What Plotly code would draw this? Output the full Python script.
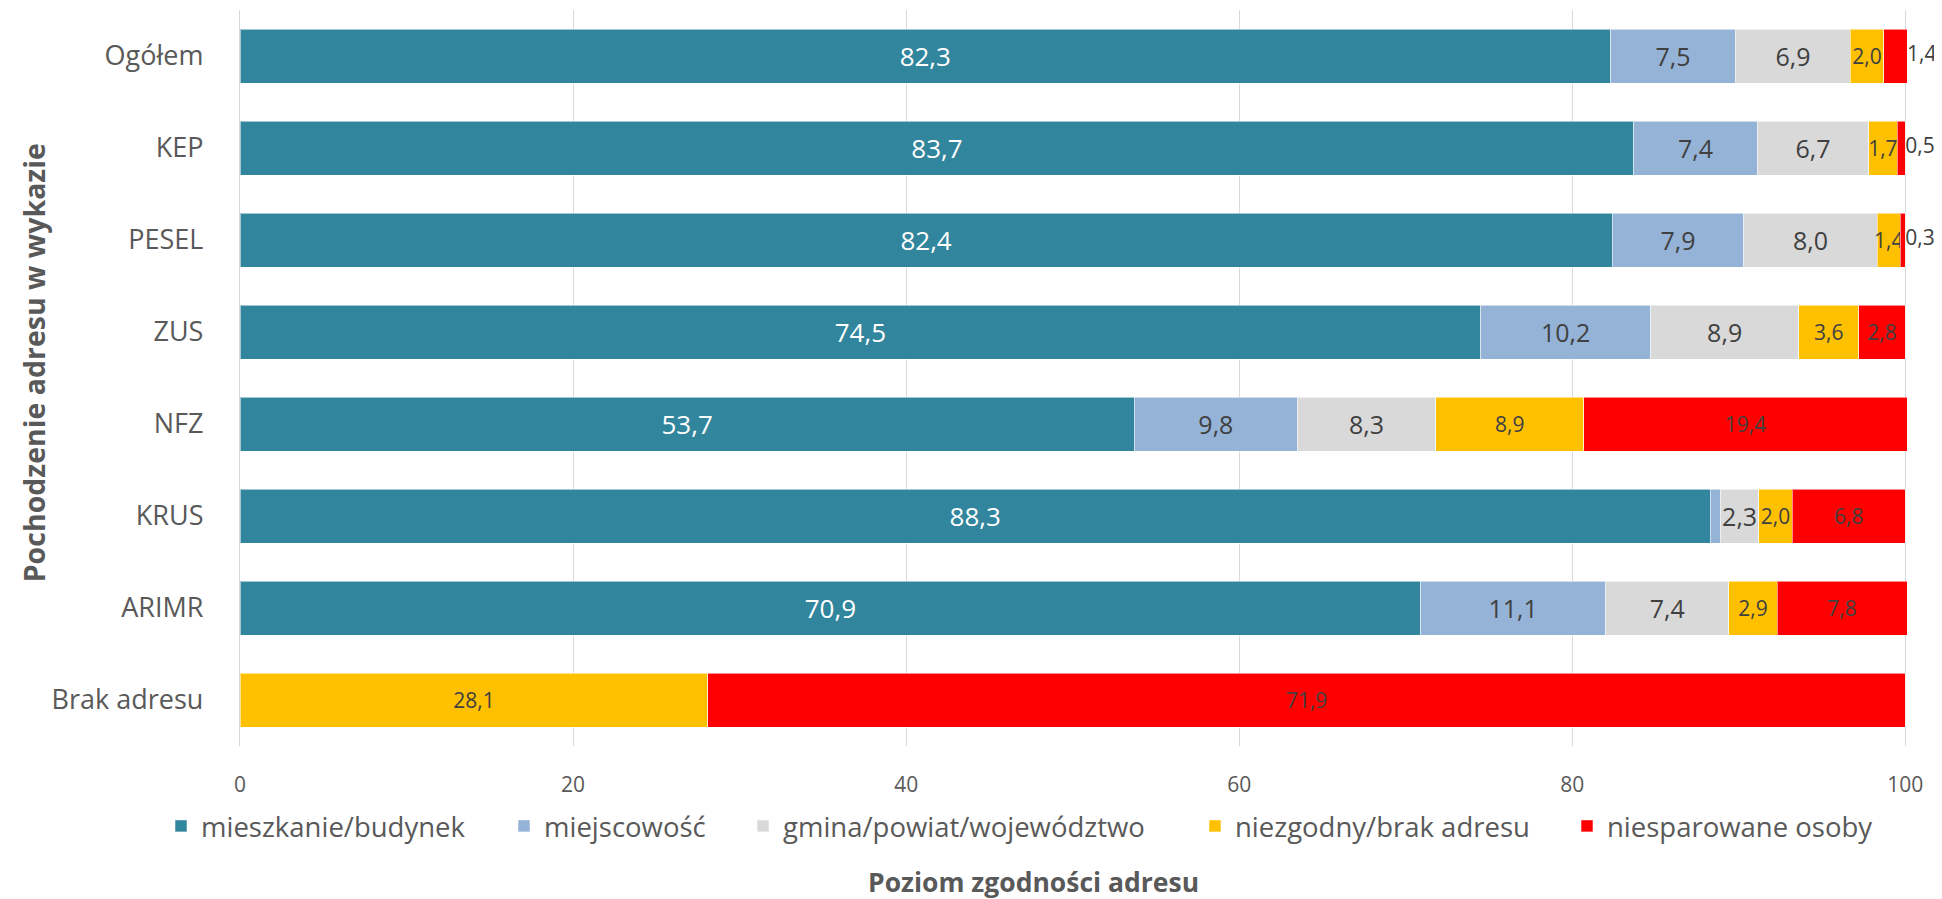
import plotly.graph_objects as go

categories = ["Ogółem", "KEP", "PESEL", "ZUS", "NFZ", "KRUS", "ARIMR", "Brak adresu"]
series_names = ["mieszkanie/budynek", "miejscowość", "gmina/powiat/województwo",
                "niezgodny/brak adresu", "niesparowane osoby"]

mieszkanie = [82.3, 83.7, 82.4, 74.5, 53.7, 88.3, 70.9, 0.0]
miejscowosc = [7.5, 7.4, 7.9, 10.2, 9.8, 0.6, 11.1, 0.0]
gmina = [6.9, 6.7, 8.0, 8.9, 8.3, 2.3, 7.4, 0.0]
niezgodny = [2.0, 1.7, 1.4, 3.6, 8.9, 2.0, 2.9, 28.1]
niesparowane = [1.4, 0.5, 0.3, 2.8, 19.4, 6.8, 7.8, 71.9]

x_ticks = [0, 20, 40, 60, 80, 100]

colors = ["#31859C", "#95B3D7", "#D9D9D9", "#FFC000", "#FF0000"]
label_colors = ["#FFFFFF", "#404040", "#404040", "#404040", "#404040"]
label_sizes = [26, 25, 25, 21, 21]
# one legend box per series so each entry sits where the reference puts it
legend_ids = ["legend", "legend2", "legend3", "legend4", "legend5"]
legend_item_x = [153, 496, 735, 1187, 1559]  # px from figure left

all_series = [mieszkanie, miejscowosc, gmina, niezgodny, niesparowane]
# red segments too narrow for an inside label get their label just right of the bar end
outside_idx = [0, 1, 2]


def fmt(v):
    return f"{v:.1f}".replace(".", ",")


fig = go.Figure()
for i, (name, vals) in enumerate(zip(series_names, all_series)):
    texts = []
    for j, v in enumerate(vals):
        if v < 1.0 or (i == 4 and j in outside_idx):
            texts.append("")
        else:
            texts.append(fmt(v))
    fig.add_trace(go.Bar(
        y=categories, x=vals, name=name, orientation="h", legend=legend_ids[i],
        marker=dict(color=colors[i], line=dict(color="rgba(255,255,255,0.55)", width=1)),
        text=texts, textposition="inside", insidetextanchor="middle",
        textangle=0, constraintext="none", cliponaxis=False,
        textfont=dict(family="Open Sans", size=label_sizes[i], color=label_colors[i]),
        hoverinfo="skip",
    ))

totals = [sum(s[j] for s in all_series) for j in range(len(categories))]

# outside labels for the narrow red segments
fig.add_trace(go.Scatter(
    y=[categories[j] for j in outside_idx],
    x=[totals[j] for j in outside_idx],
    text=[fmt(niesparowane[j]) for j in outside_idx],
    mode="text", textposition="middle right",
    textfont=dict(family="Open Sans", size=21, color="#404040"),
    showlegend=False, cliponaxis=False, hoverinfo="skip",
))

FIG_W, FIG_H = 1934, 891  # page body has an 8px default margin
legend_font = dict(family="Open Sans", size=27.5, color="#595959")

legends = {}
for lid, lx in zip(legend_ids, legend_item_x):
    legends[lid] = dict(
        orientation="h", xref="container", yref="container",
        x=lx / FIG_W, xanchor="left", y=1 - 818 / FIG_H, yanchor="middle",
        font=legend_font, itemwidth=30, traceorder="normal",
    )

fig.update_layout(
    width=FIG_W, height=FIG_H,
    barmode="stack", bargap=0.413,
    separators=", ",
    plot_bgcolor="white", paper_bgcolor="white",
    margin=dict(l=232, r=35, t=2, b=153, autoexpand=False),
    font=dict(family="Open Sans", color="#595959"),
    xaxis=dict(
        range=[0, max(totals)], tickvals=x_ticks, showgrid=True, gridcolor="#D9D9D9",
        gridwidth=1.3, zeroline=False, showline=False, ticks="", ticklabelstandoff=24,
        automargin=False, tickfont=dict(family="Open Sans", size=21, color="#595959"),
    ),
    yaxis=dict(
        categoryorder="array", categoryarray=categories, autorange="reversed",
        showgrid=False, zeroline=False, showline=True, linecolor="#D9D9D9", linewidth=1.3,
        ticks="", ticklabelstandoff=30, automargin=False,
        tickfont=dict(family="Open Sans", size=27, color="#595959"),
    ),
    annotations=[
        dict(text="<b>Poziom zgodności adresu</b>", xref="paper", yref="paper",
             x=(1022 - 232) / 1659, y=-(874 - 738) / 736, xanchor="center", yanchor="middle",
             showarrow=False, font=dict(family="Open Sans", size=26.5, color="#595959")),
        dict(text="<b>Pochodzenie adresu w wykazie</b>", xref="paper", yref="paper",
             x=(27 - 232) / 1659, y=0.52, xanchor="center", yanchor="middle", showarrow=False,
             textangle=-90, font=dict(family="Open Sans", size=28.5, color="#595959")),
    ],
    **legends,
)

fig.write_html("out.html")
